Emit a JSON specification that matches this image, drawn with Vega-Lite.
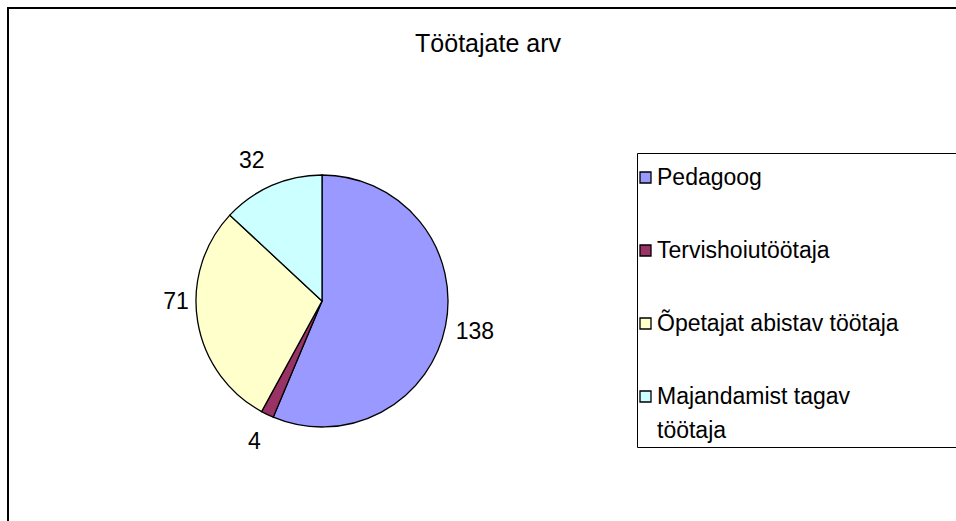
{
  "$schema": "https://vega.github.io/schema/vega-lite/v6.json",
  "autosize": {"type": "none"},
  "width": 960,
  "height": 530,
  "padding": {"left": 8, "top": 8, "right": 0, "bottom": 0},
  "background": "white",
  "title": {
    "text": "Töötajate arv",
    "orient": "top",
    "anchor": "middle",
    "frame": "group",
    "offset": -44,
    "baseline": "alphabetic",
    "dy": 26,
    "font": "Liberation Sans",
    "fontSize": 25,
    "fontWeight": "normal",
    "color": "black"
  },
  "config": {
    "view": {"stroke": null},
    "text": {"font": "Liberation Sans"},
    "style": {"guide-label": {"lineHeight": 34}}
  },
  "data": {
    "values": [
      {"kategooria": "Pedagoog", "arv": 138, "jrk": 1},
      {"kategooria": "Tervishoiutöötaja", "arv": 4, "jrk": 2},
      {"kategooria": "Õpetajat abistav töötaja", "arv": 71, "jrk": 3},
      {"kategooria": "Majandamist tagav töötaja", "arv": 32, "jrk": 4}
    ]
  },
  "layer": [
    {
      "data": {"values": [{}]},
      "mark": {"type": "rect", "fill": null, "stroke": "black", "strokeWidth": 2},
      "encoding": {
        "x": {"value": 0},
        "x2": {"value": "width"},
        "y": {"value": 0},
        "y2": {"value": "height"}
      }
    },
    {
      "mark": {"type": "arc", "x": 314, "y": 293, "outerRadius": 126, "stroke": "black", "strokeWidth": 1.3},
      "encoding": {
        "theta": {"field": "arv", "type": "quantitative", "stack": true},
        "order": {"field": "jrk", "type": "quantitative"},
        "color": {
          "field": "kategooria",
          "type": "nominal",
          "scale": {
            "domain": ["Pedagoog", "Tervishoiutöötaja", "Õpetajat abistav töötaja", "Majandamist tagav töötaja"],
            "range": ["#9999FF", "#993366", "#FFFFCC", "#CCFFFF"]
          },
          "legend": {
            "orient": "none",
            "legendX": 629,
            "legendY": 145,
            "title": " ",
            "titleFontSize": 5,
            "titlePadding": 4,
            "strokeColor": "black",
            "padding": 4,
            "symbolType": "square",
            "symbolSize": 121,
            "symbolOffset": -7,
            "symbolStrokeColor": "black",
            "symbolStrokeWidth": 1.3,
            "symbolOpacity": 1,
            "labelFont": "Liberation Sans",
            "labelFontSize": 23,
            "labelColor": "black",
            "labelOffset": 0,
            "labelLimit": 500,
            "rowPadding": 49,
            "labelExpr": "datum.label == 'Majandamist tagav töötaja' ? ['Majandamist tagav', 'töötaja'] : datum.label == 'Õpetajat abistav töötaja' ? datum.label + '            \u200b' : datum.label"
          }
        }
      }
    },
    {
      "mark": {"type": "text", "x": 314, "y": 293, "radius": 156, "fontSize": 23, "color": "black", "align": "center", "baseline": "middle"},
      "encoding": {
        "theta": {"field": "arv", "type": "quantitative", "stack": true},
        "order": {"field": "jrk", "type": "quantitative"},
        "detail": {"field": "kategooria", "type": "nominal"},
        "text": {"field": "arv", "type": "quantitative"},
        "opacity": {"condition": {"test": "datum.jrk <= 2", "value": 1}, "value": 0}
      }
    },
    {
      "mark": {"type": "text", "x": 314, "y": 293, "radius": 156, "dx": 8, "dy": -24, "fontSize": 23, "color": "black", "align": "center", "baseline": "middle"},
      "encoding": {
        "theta": {"field": "arv", "type": "quantitative", "stack": true},
        "order": {"field": "jrk", "type": "quantitative"},
        "detail": {"field": "kategooria", "type": "nominal"},
        "text": {"field": "arv", "type": "quantitative"},
        "opacity": {"condition": {"test": "datum.jrk == 3", "value": 1}, "value": 0}
      }
    },
    {
      "mark": {"type": "text", "x": 314, "y": 293, "radius": 156, "dx": -8, "dy": 3, "fontSize": 23, "color": "black", "align": "center", "baseline": "middle"},
      "encoding": {
        "theta": {"field": "arv", "type": "quantitative", "stack": true},
        "order": {"field": "jrk", "type": "quantitative"},
        "detail": {"field": "kategooria", "type": "nominal"},
        "text": {"field": "arv", "type": "quantitative"},
        "opacity": {"condition": {"test": "datum.jrk == 4", "value": 1}, "value": 0}
      }
    }
  ]
}
